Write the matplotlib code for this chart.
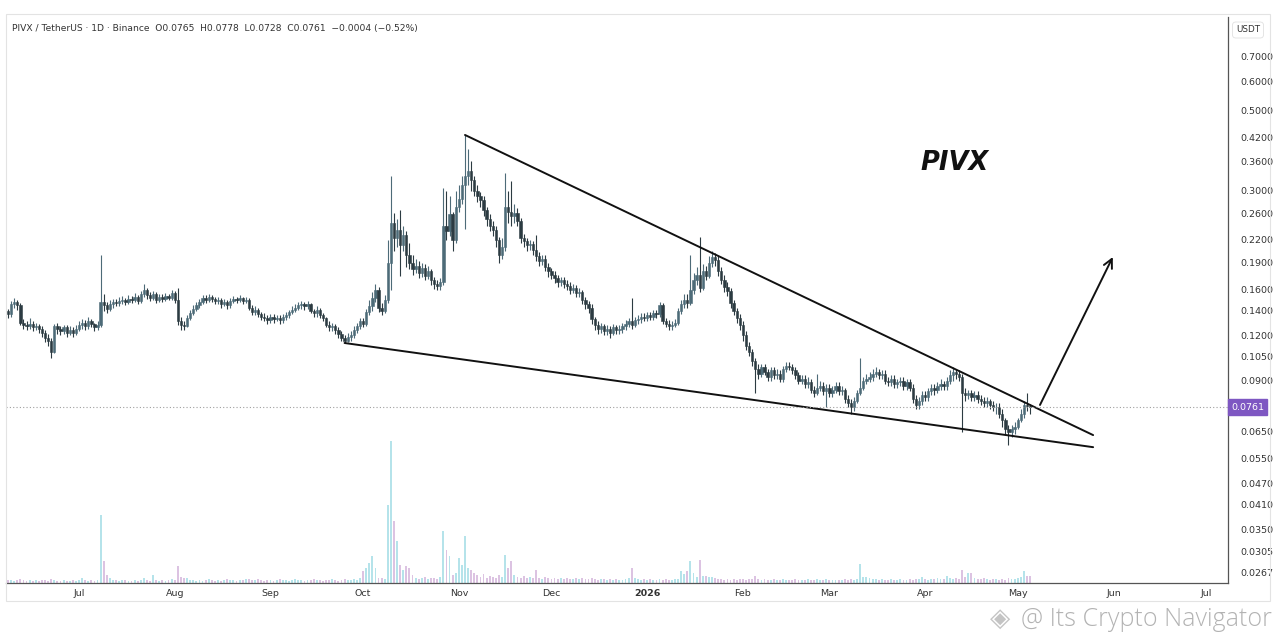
import matplotlib
matplotlib.use('Agg')
import matplotlib.pyplot as plt
import matplotlib.dates as mdates
import matplotlib.transforms as mtransforms
from matplotlib.patches import Rectangle
import numpy as np
import pandas as pd

# daily PIVX/USDT candles (first day 2025-06-08)
start_date = '2025-06-08'
first_open = 0.140
close = [
    0.137, 0.146, 0.148, 0.145, 0.130, 0.128, 0.127, 0.129, 0.126, 0.127,
    0.125, 0.122, 0.118, 0.116, 0.108, 0.127, 0.125, 0.123, 0.126, 0.122,
    0.124, 0.122, 0.125, 0.128, 0.130, 0.127, 0.131, 0.129, 0.126, 0.128,
    0.148, 0.145, 0.142, 0.146, 0.148, 0.147, 0.149, 0.150, 0.148, 0.151,
    0.150, 0.153, 0.149, 0.156, 0.160, 0.155, 0.152, 0.156, 0.150, 0.153,
    0.151, 0.154, 0.152, 0.157, 0.150, 0.131, 0.128, 0.127, 0.134, 0.138,
    0.142, 0.145, 0.148, 0.152, 0.150, 0.153, 0.151, 0.149, 0.150, 0.146,
    0.148, 0.145, 0.149, 0.151, 0.150, 0.152, 0.149, 0.150, 0.143, 0.139,
    0.141, 0.137, 0.135, 0.134, 0.132, 0.135, 0.133, 0.134, 0.132, 0.135,
    0.136, 0.139, 0.141, 0.143, 0.145, 0.146, 0.144, 0.146, 0.140, 0.138,
    0.141, 0.136, 0.134, 0.128, 0.126, 0.127, 0.124, 0.121, 0.118, 0.116,
    0.119, 0.120, 0.124, 0.127, 0.131, 0.129, 0.139, 0.144, 0.152, 0.160,
    0.143, 0.140, 0.150, 0.190, 0.245, 0.222, 0.234, 0.212, 0.226, 0.200,
    0.190, 0.183, 0.186, 0.178, 0.184, 0.175, 0.180, 0.170, 0.166, 0.164,
    0.168, 0.240, 0.233, 0.258, 0.220, 0.270, 0.285, 0.310, 0.330, 0.340,
    0.320, 0.300, 0.290, 0.282, 0.265, 0.250, 0.240, 0.234, 0.220, 0.200,
    0.210, 0.270, 0.262, 0.255, 0.260, 0.248, 0.222, 0.218, 0.212, 0.214,
    0.206, 0.198, 0.192, 0.195, 0.185, 0.180, 0.176, 0.172, 0.168, 0.170,
    0.166, 0.164, 0.160, 0.162, 0.157, 0.158, 0.150, 0.146, 0.143, 0.133,
    0.128, 0.125, 0.127, 0.123, 0.125, 0.122, 0.126, 0.124, 0.125, 0.127,
    0.129, 0.131, 0.128, 0.132, 0.133, 0.135, 0.134, 0.136, 0.135, 0.138,
    0.137, 0.145, 0.131, 0.129, 0.127, 0.128, 0.130, 0.140, 0.146, 0.150,
    0.147, 0.160, 0.170, 0.176, 0.162, 0.180, 0.175, 0.190, 0.197, 0.193,
    0.180, 0.170, 0.163, 0.159, 0.147, 0.140, 0.134, 0.128, 0.120, 0.112,
    0.108, 0.102, 0.097, 0.094, 0.098, 0.095, 0.092, 0.096, 0.093, 0.094,
    0.091, 0.097, 0.099, 0.098, 0.096, 0.093, 0.090, 0.091, 0.088, 0.089,
    0.085, 0.083, 0.086, 0.087, 0.084, 0.086, 0.083, 0.085, 0.087, 0.084,
    0.085, 0.080, 0.078, 0.076, 0.079, 0.083, 0.086, 0.090, 0.091, 0.092,
    0.094, 0.095, 0.093, 0.094, 0.090, 0.089, 0.091, 0.088, 0.089, 0.090,
    0.087, 0.089, 0.086, 0.080, 0.077, 0.079, 0.082, 0.081, 0.084, 0.086,
    0.085, 0.087, 0.088, 0.087, 0.090, 0.093, 0.095, 0.094, 0.092, 0.083,
    0.082, 0.083, 0.081, 0.082, 0.080, 0.079, 0.078, 0.079, 0.077, 0.076,
    0.076, 0.073, 0.070, 0.066, 0.065, 0.066, 0.067, 0.070, 0.073, 0.077,
    0.0765, 0.0761,
]
high = [
    0.142, 0.149, 0.152, 0.150, 0.147, 0.133, 0.131, 0.134, 0.131, 0.130,
    0.129, 0.127, 0.124, 0.121, 0.118, 0.129, 0.130, 0.127, 0.128, 0.128,
    0.127, 0.126, 0.128, 0.131, 0.133, 0.132, 0.135, 0.133, 0.130, 0.131,
    0.200, 0.156, 0.148, 0.150, 0.151, 0.151, 0.153, 0.154, 0.152, 0.155,
    0.154, 0.157, 0.155, 0.159, 0.166, 0.162, 0.158, 0.159, 0.158, 0.156,
    0.156, 0.157, 0.156, 0.160, 0.159, 0.162, 0.135, 0.131, 0.136, 0.141,
    0.145, 0.148, 0.151, 0.155, 0.155, 0.156, 0.155, 0.153, 0.153, 0.152,
    0.151, 0.150, 0.152, 0.154, 0.153, 0.155, 0.153, 0.153, 0.152, 0.145,
    0.144, 0.143, 0.139, 0.138, 0.136, 0.137, 0.137, 0.136, 0.136, 0.137,
    0.139, 0.141, 0.144, 0.146, 0.148, 0.149, 0.148, 0.149, 0.147, 0.142,
    0.144, 0.143, 0.138, 0.135, 0.131, 0.130, 0.129, 0.126, 0.123, 0.120,
    0.122, 0.123, 0.127, 0.130, 0.134, 0.134, 0.142, 0.150, 0.158, 0.166,
    0.163, 0.147, 0.155, 0.219, 0.330, 0.260, 0.250, 0.265, 0.240, 0.232,
    0.215, 0.200, 0.195, 0.192, 0.190, 0.188, 0.186, 0.183, 0.174, 0.170,
    0.172, 0.305, 0.300, 0.290, 0.262, 0.300, 0.310, 0.330, 0.427, 0.390,
    0.362, 0.330, 0.310, 0.298, 0.290, 0.270, 0.258, 0.248, 0.240, 0.224,
    0.222, 0.335, 0.300, 0.318, 0.275, 0.268, 0.252, 0.228, 0.222, 0.220,
    0.218, 0.226, 0.203, 0.200, 0.199, 0.190, 0.184, 0.180, 0.176, 0.174,
    0.173, 0.170, 0.168, 0.166, 0.165, 0.162, 0.160, 0.153, 0.149, 0.146,
    0.135, 0.131, 0.130, 0.129, 0.128, 0.127, 0.129, 0.128, 0.128, 0.130,
    0.132, 0.134, 0.152, 0.135, 0.136, 0.138, 0.138, 0.139, 0.139, 0.141,
    0.141, 0.148, 0.147, 0.134, 0.132, 0.131, 0.133, 0.143, 0.150, 0.156,
    0.156, 0.200, 0.178, 0.185, 0.223, 0.188, 0.186, 0.198, 0.205, 0.202,
    0.198, 0.185, 0.176, 0.168, 0.162, 0.150, 0.143, 0.137, 0.131, 0.123,
    0.115, 0.110, 0.104, 0.100, 0.100, 0.100, 0.097, 0.098, 0.098, 0.097,
    0.096, 0.099, 0.101, 0.101, 0.100, 0.098, 0.095, 0.093, 0.093, 0.092,
    0.091, 0.087, 0.094, 0.090, 0.089, 0.088, 0.088, 0.087, 0.089, 0.089,
    0.087, 0.086, 0.082, 0.080, 0.081, 0.085, 0.104, 0.092, 0.094, 0.095,
    0.097, 0.098, 0.097, 0.096, 0.096, 0.092, 0.093, 0.093, 0.091, 0.092,
    0.092, 0.091, 0.091, 0.088, 0.082, 0.081, 0.084, 0.084, 0.086, 0.088,
    0.088, 0.089, 0.091, 0.090, 0.092, 0.096, 0.098, 0.097, 0.096, 0.094,
    0.086, 0.085, 0.085, 0.084, 0.084, 0.082, 0.081, 0.081, 0.080, 0.079,
    0.078, 0.078, 0.075, 0.071, 0.068, 0.068, 0.069, 0.071, 0.075, 0.079,
    0.083, 0.0778,
]
low = [
    0.134, 0.135, 0.143, 0.141, 0.128, 0.125, 0.124, 0.125, 0.123, 0.124,
    0.122, 0.119, 0.115, 0.112, 0.104, 0.107, 0.121, 0.120, 0.121, 0.119,
    0.120, 0.119, 0.120, 0.123, 0.125, 0.124, 0.125, 0.126, 0.123, 0.124,
    0.126, 0.140, 0.138, 0.140, 0.143, 0.144, 0.144, 0.146, 0.145, 0.146,
    0.147, 0.148, 0.146, 0.147, 0.153, 0.151, 0.149, 0.150, 0.147, 0.148,
    0.148, 0.149, 0.150, 0.150, 0.147, 0.128, 0.124, 0.124, 0.126, 0.132,
    0.136, 0.140, 0.143, 0.146, 0.147, 0.148, 0.148, 0.146, 0.146, 0.143,
    0.144, 0.142, 0.143, 0.147, 0.147, 0.148, 0.146, 0.147, 0.141, 0.136,
    0.136, 0.135, 0.132, 0.131, 0.129, 0.130, 0.130, 0.131, 0.129, 0.130,
    0.132, 0.134, 0.137, 0.139, 0.141, 0.142, 0.141, 0.142, 0.138, 0.135,
    0.135, 0.134, 0.131, 0.126, 0.123, 0.123, 0.121, 0.118, 0.116, 0.114,
    0.115, 0.116, 0.118, 0.122, 0.125, 0.126, 0.127, 0.136, 0.140, 0.148,
    0.139, 0.136, 0.138, 0.147, 0.160, 0.205, 0.210, 0.175, 0.205, 0.185,
    0.182, 0.176, 0.178, 0.172, 0.174, 0.170, 0.171, 0.165, 0.161, 0.160,
    0.160, 0.165, 0.220, 0.225, 0.205, 0.215, 0.262, 0.275, 0.235, 0.310,
    0.300, 0.290, 0.280, 0.270, 0.255, 0.240, 0.232, 0.225, 0.210, 0.190,
    0.195, 0.205, 0.245, 0.240, 0.245, 0.240, 0.215, 0.210, 0.205, 0.206,
    0.200, 0.192, 0.186, 0.187, 0.180, 0.174, 0.171, 0.167, 0.163, 0.164,
    0.162, 0.160, 0.156, 0.157, 0.153, 0.153, 0.146, 0.142, 0.138, 0.129,
    0.124, 0.121, 0.122, 0.120, 0.120, 0.118, 0.120, 0.121, 0.121, 0.122,
    0.124, 0.126, 0.125, 0.126, 0.129, 0.130, 0.131, 0.131, 0.132, 0.132,
    0.134, 0.135, 0.129, 0.126, 0.124, 0.124, 0.126, 0.128, 0.137, 0.143,
    0.143, 0.145, 0.156, 0.165, 0.158, 0.160, 0.170, 0.172, 0.185, 0.186,
    0.175, 0.166, 0.158, 0.154, 0.143, 0.136, 0.130, 0.124, 0.116, 0.109,
    0.105, 0.099, 0.083, 0.091, 0.092, 0.093, 0.090, 0.090, 0.091, 0.091,
    0.089, 0.089, 0.095, 0.096, 0.094, 0.091, 0.088, 0.088, 0.086, 0.086,
    0.083, 0.081, 0.082, 0.084, 0.082, 0.076, 0.081, 0.081, 0.083, 0.082,
    0.082, 0.078, 0.076, 0.073, 0.074, 0.078, 0.082, 0.085, 0.088, 0.089,
    0.090, 0.092, 0.091, 0.091, 0.088, 0.087, 0.087, 0.086, 0.086, 0.087,
    0.085, 0.085, 0.084, 0.078, 0.075, 0.075, 0.077, 0.079, 0.079, 0.082,
    0.082, 0.083, 0.085, 0.085, 0.085, 0.088, 0.090, 0.091, 0.090, 0.065,
    0.079, 0.080, 0.079, 0.079, 0.078, 0.077, 0.076, 0.076, 0.075, 0.074,
    0.073, 0.071, 0.067, 0.064, 0.060, 0.063, 0.064, 0.066, 0.069, 0.071,
    0.074, 0.0728,
]
volume = [
    3, 3, 2, 3, 4, 3, 2, 3, 2, 3,
    2, 3, 3, 2, 4, 3, 2, 2, 3, 2,
    2, 3, 2, 3, 5, 3, 2, 3, 2, 3,
    68, 22, 8, 5, 3, 3, 2, 3, 3, 2,
    2, 3, 2, 3, 5, 3, 2, 8, 3, 2,
    3, 2, 3, 4, 3, 17, 6, 5, 5, 3,
    3, 2, 3, 2, 3, 4, 3, 2, 3, 2,
    3, 4, 3, 3, 2, 3, 3, 4, 4, 3,
    3, 4, 3, 2, 3, 3, 2, 3, 4, 3,
    3, 2, 3, 4, 3, 3, 2, 3, 3, 4,
    3, 3, 2, 3, 3, 4, 3, 2, 3, 4,
    3, 3, 4, 3, 5, 12, 15, 20, 27, 15,
    5, 5, 4, 78, 142, 62, 42, 18, 13, 17,
    15, 8, 5, 4, 5, 6, 4, 5, 5, 4,
    6, 52, 33, 27, 8, 10, 25, 18, 47, 15,
    13, 10, 8, 6, 9, 5, 7, 6, 5, 8,
    6, 28, 15, 22, 8, 6, 5, 7, 5, 6,
    5, 13, 5, 4, 6, 5, 4, 5, 4, 5,
    4, 5, 4, 4, 5, 4, 5, 4, 4, 5,
    4, 3, 4, 4, 3, 4, 3, 4, 3, 3,
    4, 5, 15, 5, 4, 3, 4, 3, 4, 3,
    3, 4, 3, 4, 3, 3, 4, 4, 12, 9,
    12, 22, 10, 6, 23, 7, 7, 6, 6, 5,
    4, 4, 3, 4, 3, 4, 3, 4, 4, 3,
    4, 4, 7, 4, 3, 4, 3, 3, 4, 3,
    3, 4, 3, 3, 3, 4, 3, 3, 3, 4,
    3, 3, 4, 3, 3, 4, 3, 3, 3, 3,
    3, 4, 3, 4, 3, 4, 19, 6, 6, 5,
    4, 4, 3, 4, 3, 3, 4, 3, 3, 4,
    3, 3, 4, 3, 4, 4, 6, 4, 3, 4,
    4, 5, 4, 4, 7, 5, 4, 5, 4, 13,
    6, 10, 10, 5, 4, 4, 5, 4, 3, 4,
    4, 3, 4, 3, 5, 4, 4, 5, 6, 12,
    7, 7,
]

price_ticks = [0.7, 0.6, 0.5, 0.42, 0.36, 0.30, 0.26, 0.22, 0.19, 0.16, 0.14,
               0.12, 0.105, 0.09, 0.065, 0.055, 0.047, 0.041, 0.035, 0.0305, 0.0267]
month_ticks = ['2025-07-01', '2025-08-01', '2025-09-01', '2025-10-01', '2025-11-01',
               '2025-12-01', '2026-01-01', '2026-02-01', '2026-03-01', '2026-04-01',
               '2026-05-01', '2026-06-01', '2026-07-01']
month_labels = ['Jul', 'Aug', 'Sep', 'Oct', 'Nov', 'Dec', '2026', 'Feb', 'Mar',
                'Apr', 'May', 'Jun', 'Jul']
last_price = 0.0761

# hand-drawn wedge and arrow
upper_line = [('2025-11-03 00:00', 0.427), ('2026-05-25 10:00', 0.0637)]
lower_line = [('2025-09-25 00:00', 0.1142), ('2026-05-25 10:00', 0.0590)]
arrow_from = ('2026-05-08 05:00', 0.0771)
arrow_to = ('2026-05-31 19:00', 0.197)

header = ('PIVX / TetherUS \u00b7 1D \u00b7 Binance  O0.0765  H0.0778  L0.0728  '
          'C0.0761  \u22120.0004 (\u22120.52%)')

close = np.array(close)
high = np.array(high)
low = np.array(low)
volume = np.array(volume, dtype=float)
open_ = np.r_[first_open, close[:-1]]
dates = pd.date_range(start_date, periods=len(close), freq='D')
x = mdates.date2num(dates)
up = close >= open_

UP_COL = '#4d6b78'
DOWN_COL = '#2c3b42'
VOL_UP = '#b5e3ea'
VOL_DOWN = '#dcc3e2'

W, H = 1280, 643
fig = plt.figure(figsize=(W / 100, H / 100), dpi=100)
fig.patch.set_facecolor('white')

# plot area in pixels: x 6..1228, y 17..583
L, R, T, B = 6, 1228, 17, 583
ax = fig.add_axes([L / W, 1 - B / H, (R - L) / W, (B - T) / H])
axv = ax.twinx()

# volume pane (behind candles)
axv.bar(x[up], volume[up], width=0.6, color=VOL_UP, linewidth=0)
axv.bar(x[~up], volume[~up], width=0.6, color=VOL_DOWN, linewidth=0)
axv.set_ylim(0, B - T)
axv.set_yticks([])
for s in axv.spines.values():
    s.set_visible(False)
ax.set_zorder(axv.get_zorder() + 1)
ax.patch.set_visible(False)

# candles
ax.set_yscale('log')
for mask, col in ((up, UP_COL), (~up, DOWN_COL)):
    ax.vlines(x[mask], low[mask], high[mask], color=col, linewidth=0.8)
    bottom = np.minimum(open_[mask], close[mask])
    height = np.abs(close[mask] - open_[mask])
    ax.bar(x[mask], height, bottom=bottom, width=0.75, color=col, linewidth=0.4,
           edgecolor=col)

x0 = x[0]
ax.set_xlim(x0 - 0.65, x0 + 395.1)
axv.set_xlim(x0 - 0.65, x0 + 395.1)
ax.set_ylim(0.02494, 0.902)

# wedge lines + arrow
def pt(p):
    return mdates.date2num(pd.Timestamp(p[0])), p[1]

for line in (upper_line, lower_line):
    (xa, ya), (xb, yb) = pt(line[0]), pt(line[1])
    ax.plot([xa, xb], [ya, yb], color='#111111', linewidth=1.4, solid_capstyle='round')
ax.annotate('', xy=pt(arrow_to), xytext=pt(arrow_from),
            arrowprops=dict(arrowstyle='->', color='#111111', lw=1.4,
                            mutation_scale=16, shrinkA=0, shrinkB=0))

# last price line and tag
ax.axhline(last_price, color='#9e9e9e', linewidth=0.8, linestyle=(0, (1, 2)))
trans = mtransforms.blended_transform_factory(ax.transAxes, ax.transData)
ax.text(1.0 + 3 / (R - L), last_price, f'{last_price:.4f}', transform=trans,
        ha='left', va='center', fontsize=6.8, color='white', clip_on=False,
        bbox=dict(boxstyle='square,pad=0.35', facecolor='#7e57c2', edgecolor='#7e57c2'))

ax.text(0.7765, 0.742, 'PIVX', transform=ax.transAxes, fontsize=18.5,
        fontweight='bold', fontstyle='italic', ha='center', va='center',
        color='#111111')

# axes styling
ax.yaxis.tick_right()
ax.set_yticks(price_ticks)
ax.set_yticklabels([f'{t:.4f}' for t in price_ticks])
ax.yaxis.set_minor_locator(matplotlib.ticker.NullLocator())
ax.tick_params(axis='y', length=0, pad=9, labelsize=6.8, labelcolor='#333333')
ax.set_xticks(mdates.date2num(pd.to_datetime(month_ticks)))
ax.set_xticklabels(month_labels)
ax.tick_params(axis='x', length=0, pad=4, labelsize=6.8, labelcolor='#333333')
for lab in ax.get_xticklabels():
    if lab.get_text() == '2026':
        lab.set_fontweight('bold')
ax.spines['top'].set_visible(False)
ax.spines['left'].set_visible(False)
ax.spines['right'].set_color('#555555')
ax.spines['bottom'].set_color('#555555')
ax.spines['right'].set_linewidth(0.9)
ax.spines['bottom'].set_linewidth(0.9)

# outer light frame of the chart panel
fig.patches.append(Rectangle((6 / W, 1 - 601 / H), (1270 - 6) / W, (601 - 14) / H,
                             transform=fig.transFigure, fill=False,
                             edgecolor='#e3e3e3', linewidth=0.8))

fig.text(12 / W, 1 - 28 / H, header, fontsize=6.6, color='#333333', va='center')
fig.text(1248 / W, 1 - 30 / H, 'USDT', fontsize=6.3, color='#333333',
         ha='center', va='center',
         bbox=dict(boxstyle='round,pad=0.4', facecolor='white', edgecolor='#e0e0e0',
                   linewidth=0.6))

# watermark
fig.text(1000 / W, 1 - 619 / H, '\u25c8', fontsize=19, color='#c4c4c4',
         ha='center', va='center')
fig.text(1272 / W, 1 - 619 / H, '@ Its Crypto Navigator', fontsize=18,
         color='#b3b3b3', ha='right', va='center', family='Open Sans',
         fontweight='light')

fig.savefig('out.png', dpi=100, facecolor='white')
